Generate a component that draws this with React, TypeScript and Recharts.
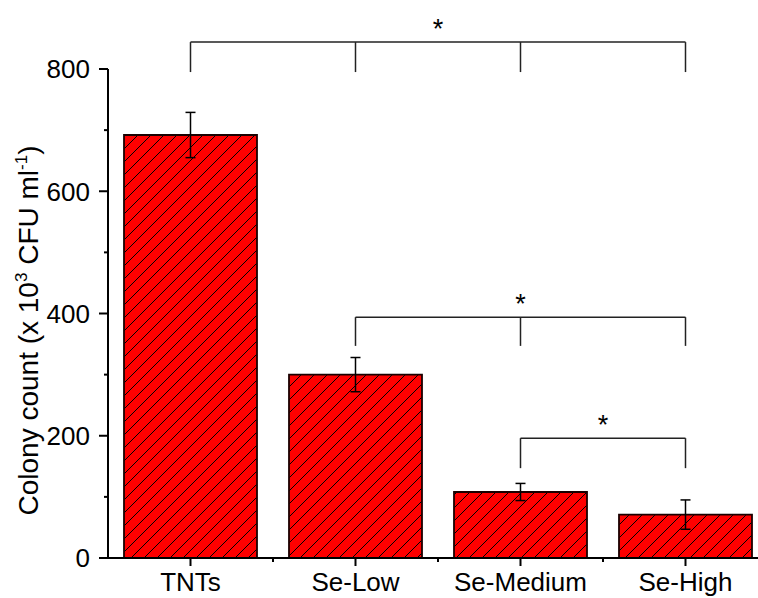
import { Bar, BarChart, ErrorBar, Label, ReferenceLine, XAxis, YAxis } from "recharts";

const groups = ["TNTs", "Se-Low", "Se-Medium", "Se-High"];
const colonyCounts = [692, 300, 108, 71];
const colonyErrors = [37, 28, 14, 24];
const yTicks = [0, 100, 200, 300, 400, 500, 600, 700, 800];

// significance brackets: span, bar height, foot height, drop positions
const bracketTop = { from: "TNTs", to: "Se-High", y: 844, foot: 795, drops: ["TNTs", "Se-Low", "Se-Medium", "Se-High"] };
const bracketMid = { from: "Se-Low", to: "Se-High", y: 394, foot: 347, drops: ["Se-Low", "Se-Medium", "Se-High"] };
const bracketLow = { from: "Se-Medium", to: "Se-High", y: 196, foot: 147, drops: ["Se-Medium", "Se-High"] };
const brackets = [bracketTop, bracketMid, bracketLow];

const data = groups.map((g, i) => ({ name: g, count: colonyCounts[i], err: colonyErrors[i] }));

const FONT = "'Liberation Sans', Arial, sans-serif";

const YTick = (props: any) => {
  const { x, y, payload } = props;
  const major = payload.value % 200 === 0;
  return (
    <g>
      <line x1={x - (major ? 9 : 4)} x2={x} y1={y} y2={y} stroke="#000" strokeWidth={2} />
      {major && (
        <text x={x - 18} y={y} dy="0.36em" textAnchor="end" fontSize={26} fontFamily={FONT} fill="#000">
          {payload.value}
        </text>
      )}
    </g>
  );
};

const XTick = (props: any) => {
  const { x, y, payload, width, visibleTicksCount } = props;
  const band = typeof width === "number" && visibleTicksCount ? width / visibleTicksCount : 165;
  return (
    <g>
      <line x1={x} x2={x} y1={y} y2={y + 8} stroke="#000" strokeWidth={2} />
      <line x1={x + band / 2} x2={x + band / 2} y1={y} y2={y + 4} stroke="#000" strokeWidth={2} />
      <text x={x} y={y + 33} textAnchor="middle" fontSize={26} fontFamily={FONT} fill="#000">
        {payload.value}
      </text>
    </g>
  );
};

const YLabel = (props: any) => {
  const vb = props.viewBox || { x: 8, y: 69, width: 100, height: 489 };
  const cx = vb.x + 30;
  const cy = vb.y + vb.height / 2 + 17;
  return (
    <text
      x={cx}
      y={cy}
      textAnchor="middle"
      transform={`rotate(-90, ${cx}, ${cy})`}
      fontSize={28}
      fontFamily={FONT}
      fill="#000"
    >
      Colony count (x 10
      <tspan dy={-11} fontSize={17}>3</tspan>
      <tspan dy={11}> CFU ml</tspan>
      <tspan dy={-11} fontSize={17}>-1</tspan>
      <tspan dy={11}>)</tspan>
    </text>
  );
};

export default function App() {
  return (
    <div style={{ position: "absolute", left: 0, top: 0, width: 758, height: 598, overflow: "hidden", background: "#fff" }}>
      <BarChart
        width={780}
        height={598}
        data={data}
        margin={{ top: 69, right: 12, bottom: 10, left: 8 }}
      >
        <defs>
          <pattern id="hatch" patternUnits="userSpaceOnUse" width={13} height={13}>
            <rect width={13} height={13} fill="#ff0000" />
            <path d="M-1,1 l2,-2 M0,13 l13,-13 M12,14 l2,-2" stroke="#000" strokeWidth={1} />
          </pattern>
        </defs>
        <XAxis
          dataKey="name"
          axisLine={{ stroke: "#000", strokeWidth: 2 }}
          tickLine={false}
          tickSize={0}
          tickMargin={0}
          height={30}
          interval={0}
          tick={<XTick />}
        />
        <YAxis
          domain={[0, 800]}
          ticks={yTicks}
          allowDataOverflow
          width={100}
          axisLine={{ stroke: "#000", strokeWidth: 2 }}
          tickLine={false}
          tickSize={0}
          tickMargin={0}
          interval={0}
          tick={<YTick />}
        >
          <Label content={<YLabel />} />
        </YAxis>
        <Bar
          dataKey="count"
          barSize={133}
          fill="url(#hatch)"
          stroke="#1a0000"
          strokeWidth={1.8}
          isAnimationActive={false}
        >
          <ErrorBar dataKey="err" width={5} stroke="#000" strokeWidth={1.5} direction="y" />
        </Bar>
        {brackets.map((b, i) => (
          <ReferenceLine
            key={`h${i}`}
            segment={[
              { x: b.from, y: b.y },
              { x: b.to, y: b.y },
            ]}
            stroke="#222"
            strokeWidth={1.5}
            ifOverflow="visible"
            label={{ value: "*", position: "top", offset: 4, fontSize: 27, fontFamily: FONT, fill: "#000" }}
          />
        ))}
        {brackets.flatMap((b, i) =>
          b.drops.map((d) => (
            <ReferenceLine
              key={`v${i}-${d}`}
              segment={[
                { x: d, y: b.y },
                { x: d, y: b.foot },
              ]}
              stroke="#222"
              strokeWidth={1.5}
              ifOverflow="visible"
            />
          ))
        )}
      </BarChart>
    </div>
  );
}
